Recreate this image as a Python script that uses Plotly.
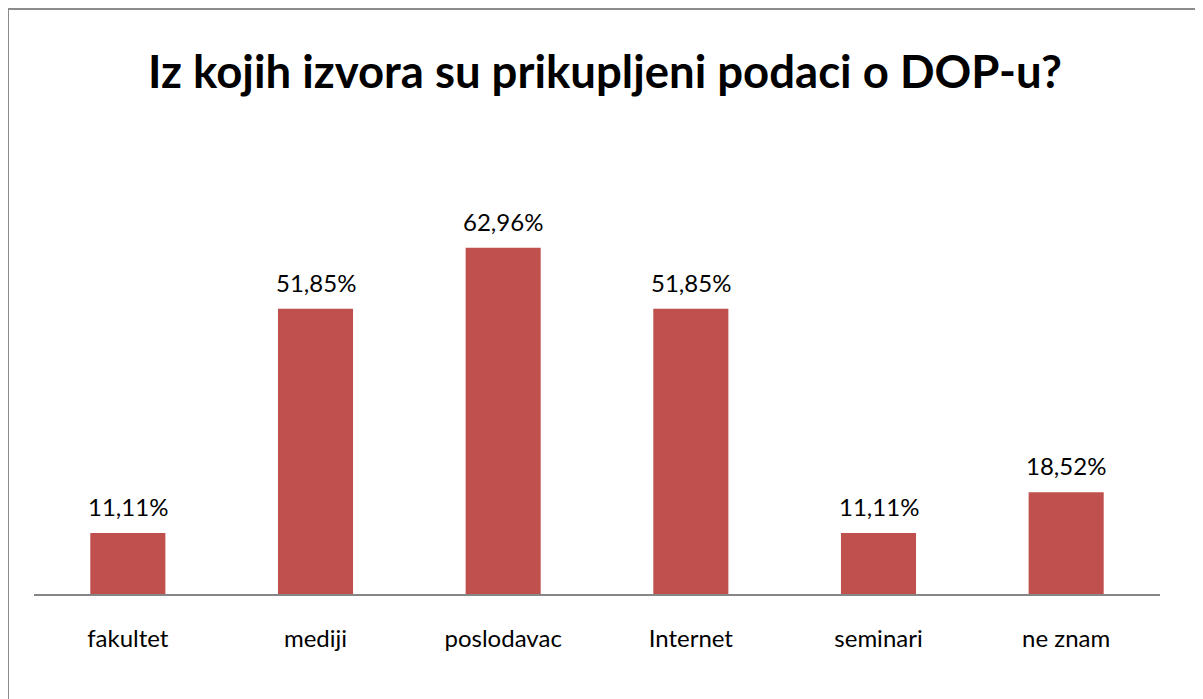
import plotly.graph_objects as go

categories = ["fakultet", "mediji", "poslodavac", "Internet", "seminari", "ne znam"]
values = [11.11, 51.85, 62.96, 51.85, 11.11, 18.52]
title_text = "Iz kojih izvora su prikupljeni podaci o DOP-u?"

# page has an 8px body margin; figure is placed at (8, 8)
OFF = 8
W, H = 1203 - OFF, 699 - OFF
ml, mr, mt, mb = 34 - OFF, 43, 209 - OFF, 105
pw = W - ml - mr
ph = H - mt - mb

FONT = "Lato"

fig = go.Figure(go.Bar(
    x=categories, y=values,
    marker=dict(color="#C0504D", line=dict(width=0)),
    cliponaxis=False,
    hoverinfo="skip",
))

annotations = [
    dict(x=c, y=v, xref="x", yref="y", text=f"{v:.2f}%".replace(".", ","),
         showarrow=False, yanchor="bottom", yshift=10,
         font=dict(family=FONT, size=24, color="#000000"))
    for c, v in zip(categories, values)
]

fig.update_layout(
    width=W, height=H,
    margin=dict(l=ml, r=mr, t=mt, b=mb),
    paper_bgcolor="white", plot_bgcolor="white",
    bargap=0.6,
    showlegend=False,
    title=dict(text="<b>" + title_text + "</b>", x=(605 - OFF) / W, xanchor="center",
               y=1 - (72 - OFF) / H, yanchor="middle",
               font=dict(family=FONT, size=45.5, color="#000000")),
    xaxis=dict(showline=True, linecolor="#868686", linewidth=2,
               ticks="", ticklabelstandoff=22,
               tickfont=dict(family=FONT, size=24, color="#000000"),
               showgrid=False, zeroline=False),
    yaxis=dict(range=[0, 70], visible=False, showgrid=False, zeroline=False),
    annotations=annotations,
    shapes=[dict(type="rect", xref="paper", yref="paper",
                 x0=(8 - 34) / pw, x1=(W + 20 - ml) / pw,
                 y0=-(mb + 30) / ph, y1=(594 - 9) / ph,
                 line=dict(color="#8C8C8C", width=2), fillcolor="rgba(0,0,0,0)",
                 layer="below")],
)

fig.write_html("out.html")
